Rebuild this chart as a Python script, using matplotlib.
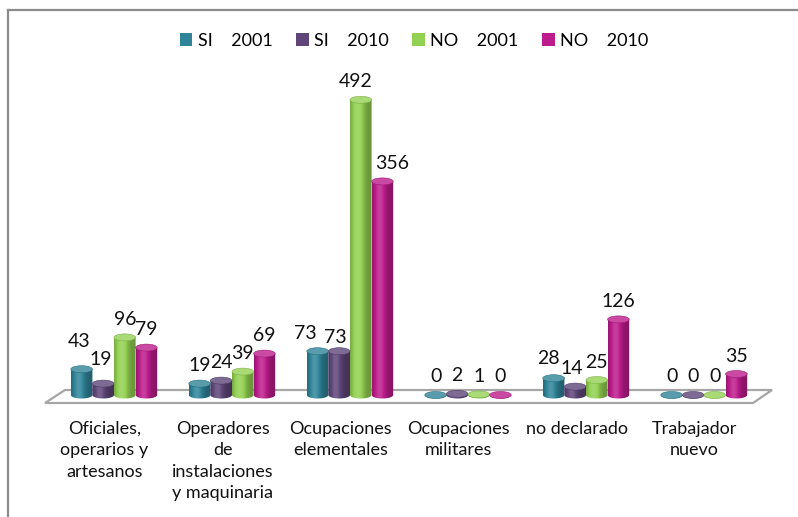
import numpy as np
import matplotlib
matplotlib.use("Agg")
import matplotlib.pyplot as plt
from matplotlib.patches import Ellipse, Polygon, Patch
from matplotlib.lines import Line2D
from matplotlib.colors import to_rgb

plt.rcParams["font.family"] = ["Lato", "DejaVu Sans"]

categories = ["Oficiales,\noperarios y\nartesanos",
              "Operadores\nde\ninstalaciones\ny maquinaria",
              "Ocupaciones\nelementales",
              "Ocupaciones\nmilitares",
              "no declarado",
              "Trabajador\nnuevo"]
series_names = ["SI    2001", "SI    2010", "NO    2001", "NO    2010"]
si_2001 = [43, 19, 73, 0, 28, 0]
si_2010 = [19, 24, 73, 2, 14, 0]
no_2001 = [96, 39, 492, 1, 25, 0]
no_2010 = [79, 69, 356, 0, 126, 35]
colors = ["#2F8499", "#5E4679", "#93D152", "#BD1C8C"]

W, H = 798, 517
PX_X = 118.0      # pixels per category
PX_Y = 0.6        # pixels per unit
X0_PX = 114.0     # pixel x of first group centre
BASE_PX = 395.0   # pixel y of baseline

# label shifts (dx, dy in pixels) where excel moved them apart
LABEL_NUDGE = {(0, 0): (-3, 10), (0, 1): (-2, 6), (2, 0): (-12, 0), (2, 1): (-4, -4),
               (2, 2): (-5, 0), (2, 3): (10, 0), (4, 0): (-5, 2), (4, 1): (-3, 0)}

fig = plt.figure(figsize=(W / 100, H / 100), dpi=100)
ax_l, ax_r, ax_t, ax_b = 40, 780, 60, 430
ax = fig.add_axes([ax_l / W, 1 - ax_b / H, (ax_r - ax_l) / W, (ax_b - ax_t) / H])
ax.set_xlim((ax_l - X0_PX) / PX_X, (ax_r - X0_PX) / PX_X)
ax.set_ylim((BASE_PX - ax_b) / PX_Y, (BASE_PX - ax_t) / PX_Y)
ax.axis("off")

# frame of the chart area
fig.add_artist(Line2D([8 / W, 8 / W], [0, 1 - 10 / H], transform=fig.transFigure,
                      color="#8C8C8C", lw=1.6))
fig.add_artist(Line2D([8 / W, 1], [1 - 10 / H, 1 - 10 / H], transform=fig.transFigure,
                      color="#8C8C8C", lw=1.6))


def px2data(x, y):
    return ((x - X0_PX) / PX_X, (BASE_PX - y) / PX_Y)


# floor
floor = [px2data(45, 403), px2data(65, 390), px2data(772, 390), px2data(753, 403)]
ax.add_patch(Polygon(floor, closed=True, facecolor="white", edgecolor="#A6A6A6",
                     lw=1.6, zorder=1))

bw = 21.6 / PX_X
eh = 7.0 / PX_Y


def shade_row(color, n=64):
    c = np.array(to_rgb(color))
    t = np.linspace(0, 1, n)
    b = 0.72 + 0.45 * np.exp(-((t - 0.35) / 0.28) ** 2)
    out = np.empty((1, n, 3))
    for i, f in enumerate(b):
        if f <= 1:
            out[0, i] = c * f
        else:
            out[0, i] = c + (1 - c) * (f - 1) * 0.9
    return np.clip(out, 0, 1)


def cylinder(xc, v, color, z):
    x0, x1 = xc - bw / 2, xc + bw / 2
    th = np.linspace(np.pi, 2 * np.pi, 40)
    pts = [(xc + bw / 2 * np.cos(a), eh / 2 * np.sin(a)) for a in th]
    pts += [(x1, v), (x0, v)]
    body = Polygon(pts, closed=True, facecolor="none", edgecolor="none",
                   transform=ax.transData)
    ax.add_patch(body)
    im = ax.imshow(shade_row(color), extent=(x0, x1, -eh / 2, max(v, 0.01)),
                   aspect="auto", interpolation="bilinear", zorder=z)
    im.set_clip_path(body)
    c = np.array(to_rgb(color))
    top = c + (1 - c) * 0.2
    ax.add_patch(Ellipse((xc, v), bw, eh, facecolor=top, edgecolor=c * 0.85,
                         lw=0.4, zorder=z + 0.1))


series = [si_2001, si_2010, no_2001, no_2010]
for gi in range(len(categories)):
    for si, vals in enumerate(series):
        xc = gi + (si - 1.5) * bw
        v = vals[gi]
        cylinder(xc, v, colors[si], 2 + gi * 0.5 + si * 0.01)
        dx, dy = LABEL_NUDGE.get((gi, si), (0, 0))
        ax.annotate(str(v), (xc, v + eh / 2), xytext=(dx, 6 + dy),
                    textcoords="offset pixels", ha="center", va="bottom",
                    fontsize=14, color="#111111", zorder=10)

for gi, lab in enumerate(categories):
    ax.text(gi - 0.08, (BASE_PX - 421) / PX_Y, lab, ha="center", va="top",
            fontsize=13, linespacing=1.42, color="#111111")

handles = [Patch(facecolor=c, edgecolor="none") for c in colors]
fig.legend(handles, series_names, loc="center", bbox_to_anchor=(414 / W, 1 - 41 / H),
           ncol=4, frameon=False, fontsize=13, handlelength=0.7, handleheight=0.7,
           handletextpad=0.3, columnspacing=1.3)

fig.savefig("out.png", dpi=100)
